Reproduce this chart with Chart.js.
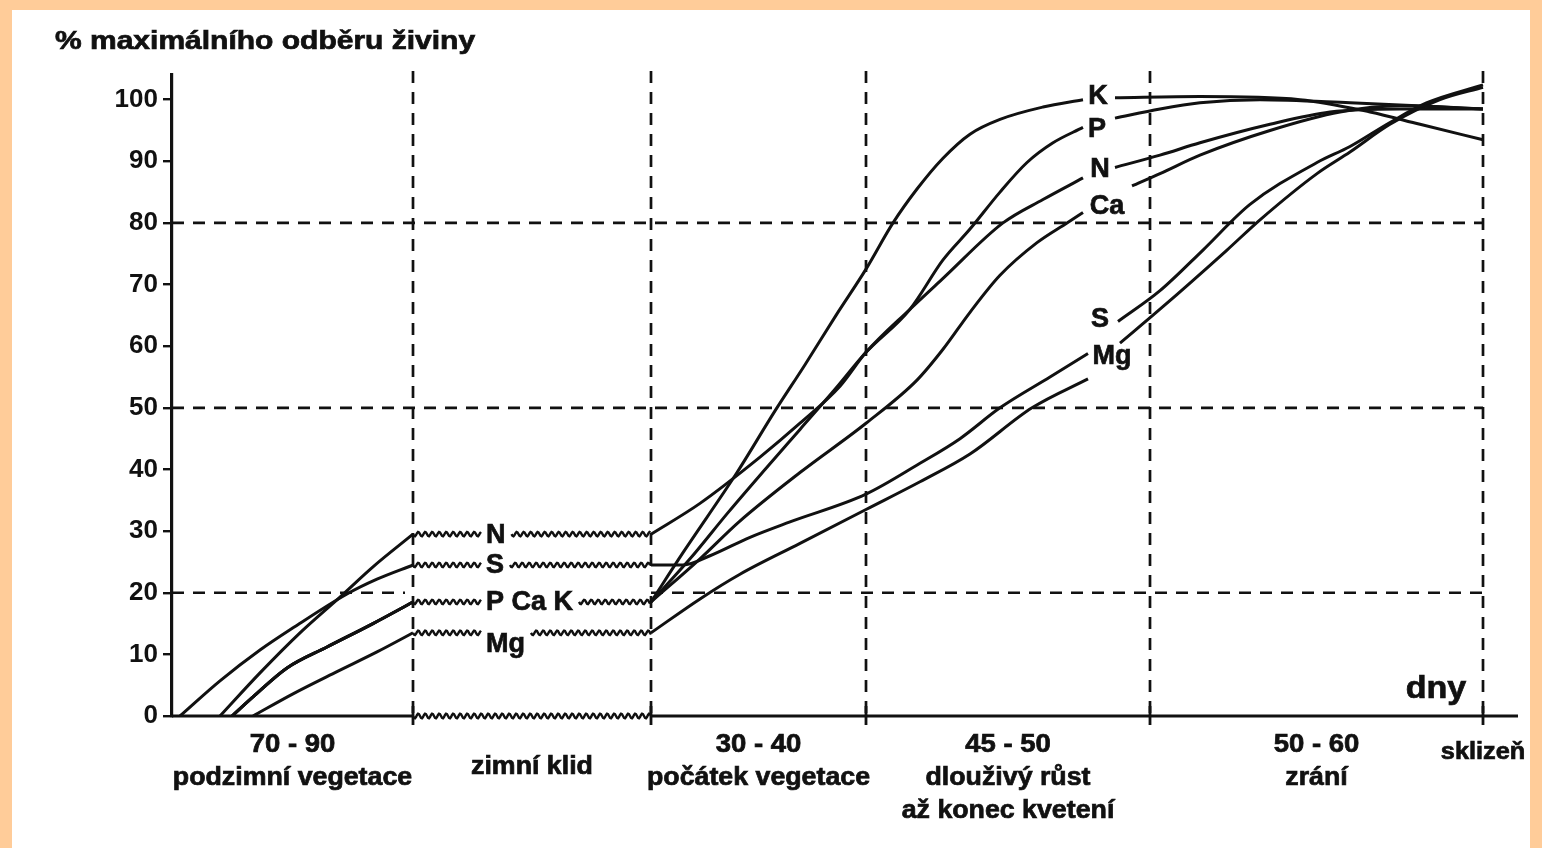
<!DOCTYPE html>
<html>
<head>
<meta charset="utf-8">
<script src="https://cdn.jsdelivr.net/npm/chart.js@4.4.1/dist/chart.umd.min.js"></script>
<style>
    html, body { margin: 0; padding: 0; width: 1542px; height: 848px; overflow: hidden; background: #ffcc99; }
    #wrap { position: absolute; left: 12px; top: 10px; width: 1518px; height: 838px; background: #fff; }
</style>
</head>
<body>
<div id="wrap"><canvas id="chart" width="1518" height="838"></canvas></div>
<script>
// timeline position (arbitrary units), stage boundaries along the x axis
const stageBounds = [0, 24.1, 47.9, 69.4, 97.8, 131.1];
const stageDays = ["70 - 90", "", "30 - 40", "45 - 50", "50 - 60"];
const stageNames = [["podzimní vegetace"], ["zimní klid"], ["počátek vegetace"], ["dlouživý růst", "až konec kvetení"], ["zrání"]];
const harvestLabel = "sklizeň";
const xAxisLabel = "dny";
const yAxisTitle = "% maximálního odběru živiny";
const yTicks = [0, 10, 20, 30, 40, 50, 60, 70, 80, 90, 100];
const refLevels = [20, 50, 80];
const refSkipWinter = [true, false, false];

// levels held through the winter rest (wavy lines) and their labels
const winterLevels = [29.5, 24.5, 18.5, 13.5];
const winterLabels = ["N", "S", "P Ca K", "Mg"];
const winterLabelX = 31.4;

// uptake curves: [x, % of max], null = gap where the label sits
const curveN = [[4.8, 0], [8.8, 7], [12.8, 13.5], [16.8, 19.3], [20.1, 24.2], [24.1, 29.5], [36, null],
    [47.9, 29.5], [52.8, 34.5], [58.8, 42], [62.8, 47.5], [66.8, 53.5], [69.4, 59], [73.8, 66],
    [77.1, 71], [83.1, 80], [87.1, 83.8], [91.1, 87.3], [92.8, null], [94.3, 89], [98.8, 91], [102.8, 93],
    [109.8, 96], [115.8, 98], [122.8, 98.5], [131.1, 98.5]];
const curveP = [[6.0, 0], [8.1, 3.1], [11.5, 7.8], [15.5, 11.2], [20.1, 15], [24.1, 18.5], [36, null],
    [47.9, 18.5], [51.8, 25.5], [55.6, 33], [59.3, 40], [62.8, 46.5], [66.3, 53], [69.4, 59], [73.8, 66],
    [77.1, 74], [79.8, 79], [82.8, 85], [85.5, 89.8], [88.1, 93], [91.1, 95.5], [92.5, null], [94.3, 97],
    [98.8, 98.5], [102.8, 99.5], [108.8, 100], [117.8, 99.5], [131.1, 98.5]];
const curveK = [[6.0, 0], [8.1, 3.1], [11.5, 7.8], [15.5, 11.2], [20.1, 15], [24.1, 18.5], [36, null],
    [47.9, 18.5], [51.1, 26.5], [56.5, 39.5], [60.3, 49.5], [63.3, 57], [66.4, 65], [69.4, 72.5], [72.1, 80],
    [74.5, 85.5], [77.1, 90.5], [79.8, 94.4], [82.8, 96.8], [87.1, 98.8], [91.1, 100], [92.6, null], [94.3, 100.3],
    [102.8, 100.5], [112.8, 100], [119.8, 98], [124.8, 96], [131.1, 93.5]];
const curveCa = [[6.0, 0], [8.1, 3.1], [11.5, 7.8], [15.5, 11.2], [20.1, 15], [24.1, 18.5], [36, null],
    [47.9, 18.5], [52.8, 25.5], [56.7, 31.5], [62.8, 39.5], [69.4, 47.5], [74.5, 54.5], [77.1, 59.5], [79.8, 65.5],
    [82.8, 71.5], [86.5, 76.8], [89.5, 80], [91.1, 81.7], [93.5, null], [96.0, 86], [98.8, 88], [102.8, 91],
    [109.8, 95], [116.8, 98], [122.8, 99], [131.1, 98.5]];
const curveS = [[0.8, 0], [4.8, 5.7], [8.8, 10.7], [12.1, 14.3], [17.5, 19.8], [20.5, 22.2], [24.1, 24.5], [36, null],
    [47.9, 24.5], [51.1, 24.5], [53.8, 26], [57.8, 29], [61.8, 31.5], [69.4, 36], [74.8, 41], [78.8, 45],
    [82.8, 50], [87.8, 55], [91.6, 58.8], [93.1, null], [94.6, 64], [98.8, 69], [103.1, 75.6], [107.8, 83],
    [114.5, 89.8], [117.8, 92.4], [121.8, 96.3], [125.5, 99.5], [131.1, 102.4]];
const curveMg = [[8.1, 0], [12.1, 3.6], [16.5, 7.2], [20.5, 10.4], [24.1, 13.5], [36, null],
    [47.9, 13.5], [52.8, 19], [56.8, 23], [62.8, 28], [69.4, 33.5], [74.8, 38], [79.8, 42.5], [86.0, 50],
    [91.6, 54.7], [93.2, null], [94.8, 60.5], [98.8, 66], [105.5, 75.6], [108.8, 80.5], [114.5, 88],
    [117.8, 91.5], [121.8, 96], [126.8, 100], [131.1, 102]];

// where the curve names sit (in the gaps)
const endLabels = ["K", "P", "N", "Ca", "S", "Mg"];
const endLabelX = [92.6, 92.5, 92.8, 93.5, 92.8, 94.0];
const endLabelY = [100.5, 95.1, 88.6, 82.6, 64.3, 58.3];

const ink = "#111";
const FONT = '"Liberation Sans", Arial, sans-serif';

function text(ctx, s, px, py, size, align, sx) {
    ctx.save();
    ctx.font = "bold " + size + "px " + FONT;
    ctx.textBaseline = "middle";
    ctx.textAlign = align;
    ctx.fillStyle = ink;
    ctx.strokeStyle = ink;
    ctx.lineWidth = 0.7;
    ctx.setLineDash([]);
    ctx.translate(px, py);
    ctx.scale(sx, 1);
    ctx.fillText(s, 0, 0);
    ctx.strokeText(s, 0, 0);
    let w = ctx.measureText(s).width * sx;
    ctx.restore();
    return w;
}

function seg(ctx, x0, y0, x1, y1) {
    ctx.beginPath();
    ctx.moveTo(x0, y0);
    ctx.lineTo(x1, y1);
    ctx.stroke();
}

function wavy(ctx, x0, x1, py, amp, wl) {
    ctx.beginPath();
    ctx.moveTo(x0, py);
    for (let px = x0; px <= x1; px += 1) {
        ctx.lineTo(px, py + amp * Math.sin((px - x0) / wl * 2 * Math.PI));
    }
    ctx.stroke();
}

const schemePlugin = {
    id: "scheme",
    beforeDatasetsDraw(chart) {
        const { ctx, chartArea: a, scales: { x, y } } = chart;
        const wStart = x.getPixelForValue(stageBounds[1]);
        const wEnd = x.getPixelForValue(stageBounds[2]);
        const xEnd = x.getPixelForValue(stageBounds[5]);
        ctx.save();
        ctx.strokeStyle = ink;
        ctx.lineWidth = 2.7;
        ctx.setLineDash([12, 9]);
        stageBounds.slice(1).forEach(b => {
            const px = x.getPixelForValue(b);
            seg(ctx, px, a.top - 4, px, a.bottom);
        });
        refLevels.forEach((lv, i) => {
            const py = y.getPixelForValue(lv);
            if (refSkipWinter[i]) {
                seg(ctx, a.left, py, wStart - 8, py);
                seg(ctx, wEnd, py, xEnd, py);
            } else {
                seg(ctx, a.left, py, xEnd, py);
            }
        });
        ctx.restore();
    },
    afterDatasetsDraw(chart) {
        const { ctx, chartArea: a, scales: { x, y } } = chart;
        const y0 = y.getPixelForValue(0);
        const wStart = x.getPixelForValue(stageBounds[1]);
        const wEnd = x.getPixelForValue(stageBounds[2]);
        ctx.save();
        ctx.strokeStyle = ink;
        ctx.setLineDash([]);

        // x axis, wavy through the winter rest
        ctx.lineWidth = 3.2;
        seg(ctx, a.left, y0, wStart, y0);
        seg(ctx, wEnd, y0, a.right, y0);
        ctx.lineWidth = 2.4;
        wavy(ctx, wStart, wEnd, y0, 2.4, 7);
        ctx.lineWidth = 2.8;
        stageBounds.slice(1).forEach(b => {
            const px = x.getPixelForValue(b);
            seg(ctx, px, y0 - 10, px, y0 + 9);
        });

        // winter levels
        const lx = x.getPixelForValue(winterLabelX);
        winterLevels.forEach((lv, i) => {
            const py = y.getPixelForValue(lv);
            const dy = winterLabels[i] === "Mg" ? 12 : 1;
            const w = text(ctx, winterLabels[i], lx, py + dy, 27, "left", 1.0);
            ctx.lineWidth = 2.4;
            wavy(ctx, wStart, lx - 5, py, 2.2, 7);
            wavy(ctx, lx + w + 6, wEnd, py, 2.2, 7);
        });

        // curve names
        endLabels.forEach((s, i) => {
            text(ctx, s, x.getPixelForValue(endLabelX[i]), y.getPixelForValue(endLabelY[i]), 27, "center", 1.0);
        });

        // stage labels under the axis
        stageNames.forEach((names, i) => {
            const cx = x.getPixelForValue((stageBounds[i] + stageBounds[i + 1]) / 2);
            if (stageDays[i]) {
                text(ctx, stageDays[i], cx, y0 + 29, 25, "center", 1.1);
                names.forEach((n, j) => text(ctx, n, cx, y0 + 62 + j * 33, 25, "center", 1.07));
            } else {
                text(ctx, names[0], cx, y0 + 51, 25, "center", 1.07);
            }
        });
        text(ctx, harvestLabel, x.getPixelForValue(stageBounds[5]), y0 + 37, 23, "center", 1.1);
        text(ctx, xAxisLabel, a.right - 82, y0 - 27, 31, "center", 1.1);
        text(ctx, yAxisTitle, 43, 32, 25, "left", 1.2);
        ctx.restore();
    }
};

function toPoints(pairs) {
    return pairs.map(([px, py]) => ({ x: px, y: py }));
}

function main() {
    const curves = [curveN, curveP, curveK, curveCa, curveS, curveMg];
    const names = ["N", "P", "K", "Ca", "S", "Mg"];

    new Chart(document.getElementById("chart"), {
        type: "line",
        data: {
            datasets: curves.map((c, i) => ({
                label: names[i],
                data: toPoints(c),
                borderColor: ink,
                borderWidth: 3,
                pointRadius: 0,
                fill: false,
                spanGaps: false,
                cubicInterpolationMode: "monotone"
            }))
        },
        options: {
            responsive: false,
            animation: false,
            events: [],
            layout: { padding: { left: 100, right: 12, top: 65, bottom: 132 } },
            plugins: { legend: { display: false }, tooltip: { enabled: false } },
            scales: {
                x: { type: "linear", min: 0, max: 134.6, display: false },
                y: {
                    type: "linear",
                    min: 0,
                    max: 104,
                    afterBuildTicks: s => { s.ticks = yTicks.map(v => ({ value: v })); },
                    afterFit: s => { s.width = 60; },
                    border: { display: true, color: ink, width: 3.2 },
                    grid: { display: true, drawOnChartArea: false, drawTicks: true, tickLength: 9, color: ink, lineWidth: 2.4 },
                    ticks: { color: ink, padding: 5, font: { family: FONT, weight: "bold", size: 26 } }
                }
            }
        },
        plugins: [schemePlugin]
    });
}

document.addEventListener("DOMContentLoaded", main);
</script>
</body>
</html>
